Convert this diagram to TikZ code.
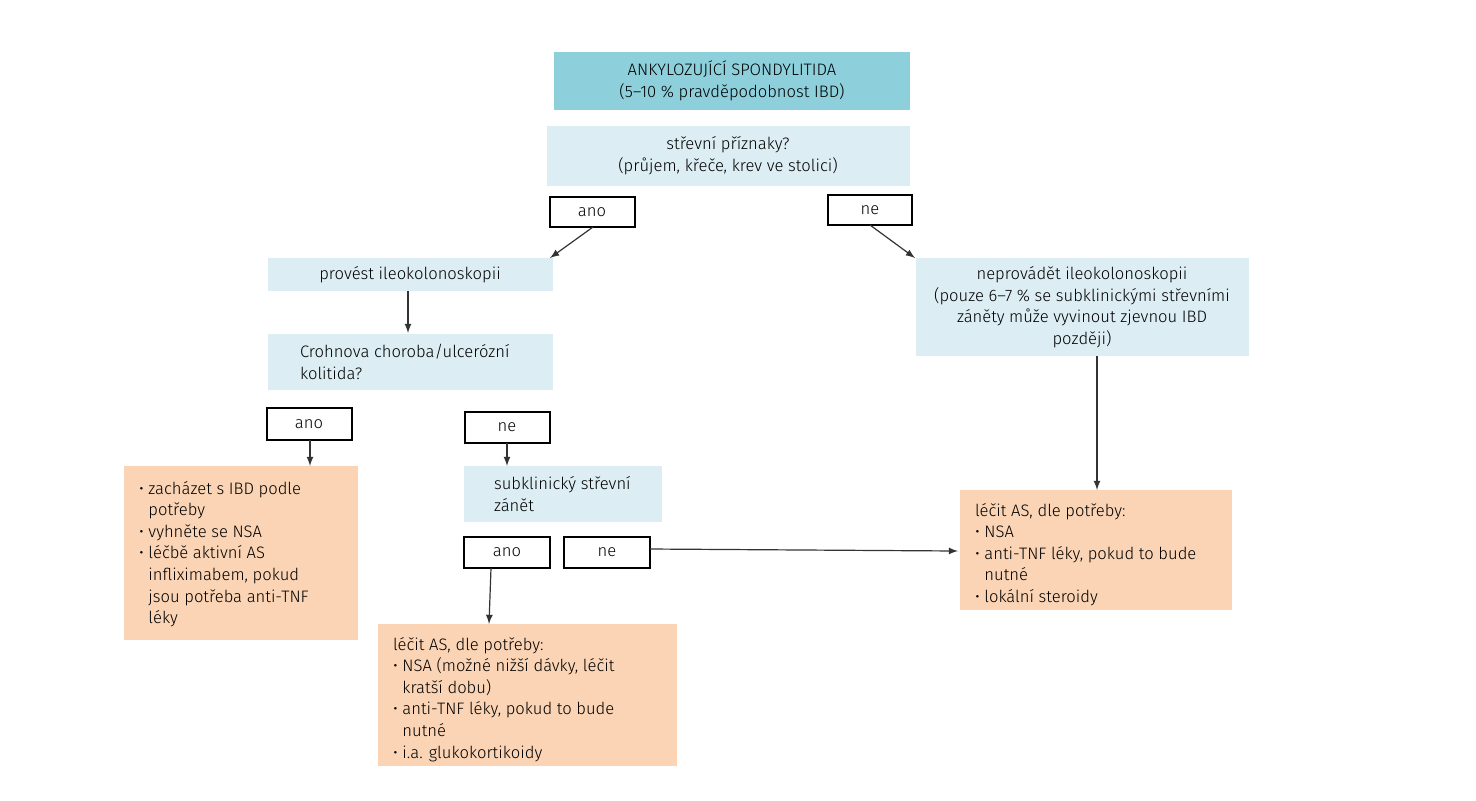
\documentclass[tikz,border=0pt]{standalone}
\usepackage{fontspec}
\setmainfont{Fira Sans Light}
\begin{document}
\begin{tikzpicture}[x=0.5pt,y=-0.5pt,
 box/.style={draw=none,inner sep=0pt},
 lb/.style={fill=lblue},
 ob/.style={fill=orng},
 yn/.style={draw=black,line width=0.6pt,fill=white},
 arr/.style={-latex,line width=0.6pt,draw=black!80},
 every node/.style={font=\fontsize{8.3}{10.8}\selectfont}]
\definecolor{lblue}{HTML}{DCEDF3}
\definecolor{teal}{HTML}{8DD0DC}
\definecolor{orng}{HTML}{FAD4B4}
\useasboundingbox (0,0) rectangle (1476,800);
\fill[teal] (554,52) rectangle (910,110);
\node[align=center] (t) at (732,81) {ANKYLOZUJÍCÍ SPONDYLITIDA\\(5–10 \% pravděpodobnost IBD)};
\fill[lblue] (547,126) rectangle (910,186);
\node[align=center] (q) at (728,156) {střevní příznaky?\\(průjem, křeče, krev ve stolici)};
\draw[yn] (550,197) rectangle (635,227); \node (a1) at (592,212) {ano};
\draw[yn] (828,195) rectangle (912,225); \node (n1) at (870,210) {ne};
\fill[lblue] (268,258) rectangle (553,291);
\node (p) at (410,274.5) {provést ileokolonoskopii};
\fill[lblue] (916,258) rectangle (1249,356);
\node[align=center] (np) at (1082,307) {neprovádět ileokolonoskopii\\(pouze 6–7 \% se subklinickými střevními\\záněty může vyvinout zjevnou IBD\\později)};
\coordinate (a1b) at (593,227); \coordinate (pt) at (550,258);
\draw[arr] (a1b) -- (pt);
\coordinate (n1b) at (870,225); \coordinate (npt) at (915,258);
\draw[arr] (n1b) -- (npt);
\fill[lblue] (268,334) rectangle (553,390);
\node[align=left,anchor=west] (c) at (293,362) {Crohnova choroba/ulcerózní\\kolitida?};
\coordinate (pb) at (408,291); \coordinate (ct) at (408,333);
\draw[arr] (pb) -- (ct);
\draw[yn] (267,408) rectangle (352,440); \node (a2) at (309,424) {ano};
\draw[yn] (465,412) rectangle (550,443); \node (n2) at (507,427) {ne};
\fill[orng] (124,466) rectangle (358,640);
\node[align=left,anchor=north west] (o1) at (132,474) {• zacházet s IBD podle\\\phantom{• }potřeby\\• vyhněte se NSA\\• léčbě aktivní AS\\\phantom{• }infliximabem, pokud\\\phantom{• }jsou potřeba anti-TNF\\\phantom{• }léky};
\fill[lblue] (464,466) rectangle (662,522);
\node[align=left,anchor=west] (s) at (487,494) {subklinický střevní\\zánět};
\coordinate (a2b) at (310,440); \coordinate (o1t) at (310,466);
\draw[arr] (a2b) -- (o1t);
\coordinate (n2b) at (507,443); \coordinate (st) at (507,466);
\draw[arr] (n2b) -- (st);
\draw[yn] (464,537) rectangle (550,568); \node (a3) at (507,552.5) {ano};
\draw[yn] (564,537) rectangle (650,568); \node (n3) at (607,552.5) {ne};
\fill[orng] (378,624) rectangle (677,766);
\node[align=left,anchor=north west] (o2) at (386,630) {léčit AS, dle potřeby:\\• NSA (možné nižší dávky, léčit\\\phantom{• }kratší dobu)\\• anti-TNF léky, pokud to bude\\\phantom{• }nutné\\• i.a. glukokortikoidy};
\fill[orng] (960,490) rectangle (1232,610);
\node[align=left,anchor=north west] (o3) at (968,496) {léčit AS, dle potřeby:\\• NSA\\• anti-TNF léky, pokud to bude\\\phantom{• }nutné\\• lokální steroidy};
\coordinate (a3b) at (491,568); \coordinate (o2t) at (489,624);
\draw[arr] (a3b) -- (o2t);
\coordinate (n3r) at (650,549); \coordinate (o3l) at (958,551);
\draw[arr] (n3r) -- (o3l);
\coordinate (npb) at (1097,356); \coordinate (o3t) at (1097,490);
\draw[arr] (npb) -- (o3t);
\end{tikzpicture}
\end{document}
